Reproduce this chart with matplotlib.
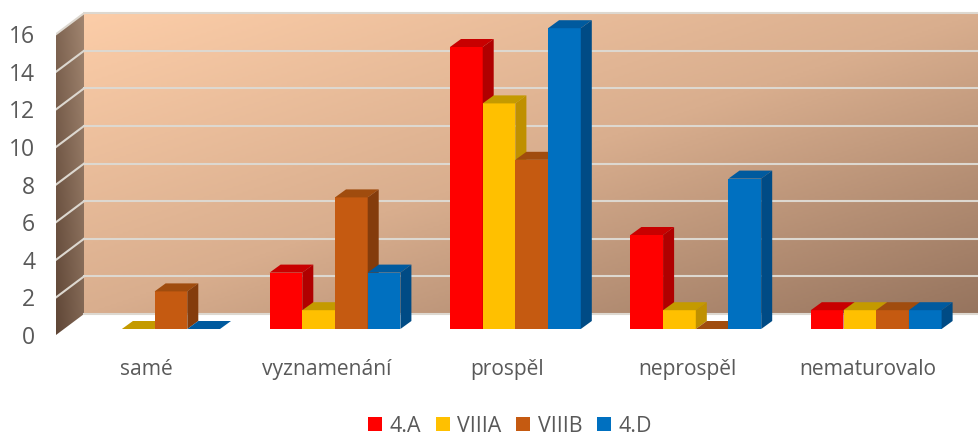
import numpy as np
import matplotlib
matplotlib.use('Agg')
import matplotlib.pyplot as plt
from matplotlib.patches import Polygon, Patch
from matplotlib.colors import LinearSegmentedColormap

plt.rcParams['font.family'] = ['Open Sans', 'DejaVu Sans']

# data
categories = ['samé', 'vyznamenání', 'prospěl', 'neprospěl', 'nematurovalo']
series_names = ['4.A', 'VIIIA', 'VIIIB', '4.D']
val_4a = [np.nan, 3, 15, 5, 1]
val_8a = [0, 1, 12, 1, 1]
val_8b = [2, 7, 9, 0, 1]
val_4d = [0, 3, 16, 8, 1]
y_ticks = [0, 2, 4, 6, 8, 10, 12, 14, 16]

# colours: front, side, top
front = ['#FF0000', '#FFC000', '#C55A11', '#0070C0']
side = ['#B00000', '#BF9000', '#843C0C', '#004B85']
top = ['#C80000', '#C49A00', '#A04C0E', '#005A9E']
grid_col = '#DDD8D0'
text_col = '#595959'

W, H = 979, 438
fig = plt.figure(figsize=(W / 100, H / 100), dpi=100)

# axes: left edge = front of the side wall, y=0 is the wall's front corner
px_left, px_right, px_y0, px_ytop = 56, 979, 335, 13
ax = fig.add_axes([px_left / W, 1 - px_y0 / H, (px_right - px_left) / W, (px_y0 - px_ytop) / H])
px_unit = 18.8          # pixels for one y unit
px_group = 180.4        # pixels between groups
ax.set_ylim(0, (px_y0 - px_ytop) / px_unit)
# category tick (label centre) positions in group units
label_px0 = 146
ax.set_xlim((px_left - label_px0) / px_group, (px_right - label_px0) / px_group)

# helper sizes in data units
ux = 1 / px_group
uy = 1 / px_unit
wall_dx, wall_dy = 28 * ux, 21 * uy
bar_w = 32.7 * ux
bar_dx, bar_dy = 11 * ux, 8 * uy
bar_base = 6 * uy       # bars stand a bit deeper than the front corner
group_shift = 8.6 * ux  # group centre vs. label centre

x0, x1 = ax.get_xlim()
wall_top = 16

# back wall gradient
nx, ny = 300, 150
gx, gy = np.meshgrid(np.linspace(0, 1, nx), np.linspace(0, 1, ny))
wall_cmap = LinearSegmentedColormap.from_list('wall', ['#FCCDA8', '#D9AE8E', '#96745E'])
back = ax.imshow((gx + gy) / 2, cmap=wall_cmap, aspect='auto', vmin=0, vmax=1, origin='upper',
                 extent=[x0 + wall_dx, x1, wall_dy, wall_top + wall_dy], zorder=1)

# side wall gradient, clipped to a parallelogram
side_cmap = LinearSegmentedColormap.from_list('side', ['#5F4636', '#A88C76'])
side_img = ax.imshow(np.clip(0.45 * gx + 0.45 * gy, 0, 1), cmap=side_cmap, aspect='auto',
                     vmin=0, vmax=1, origin='lower',
                     extent=[x0, x0 + wall_dx, 0, wall_top + wall_dy], zorder=1)
wall_poly = Polygon([(x0, 0), (x0 + wall_dx, wall_dy), (x0 + wall_dx, wall_top + wall_dy), (x0, wall_top)],
                    closed=True, transform=ax.transData, facecolor='none', edgecolor='none')
ax.add_patch(wall_poly)
side_img.set_clip_path(wall_poly)
ax.set_xlim(x0, x1)
ax.set_ylim(0, (px_y0 - px_ytop) / px_unit)

# gridlines
for v in y_ticks:
    ax.plot([x0 + wall_dx, x1], [v + wall_dy, v + wall_dy], color=grid_col, lw=1.5, zorder=2, clip_on=False)
    if v > 0:
        ax.plot([x0, x0 + wall_dx], [v, v + wall_dy], color=grid_col, lw=1.5, zorder=2)

# bars, painted left to right so the later ones cover the earlier sides
all_vals = [val_4a, val_8a, val_8b, val_4d]
z = 3
for g in range(len(categories)):
    for s in range(4):
        v = all_vals[s][g]
        if np.isnan(v):
            continue
        left = g + group_shift + (s - 2) * bar_w
        ax.bar(left, v, bar_w, bottom=bar_base, align='edge', color=front[s], lw=0, zorder=z)
        t = bar_base + v
        r = left + bar_w
        ax.add_patch(Polygon([(left, t), (r, t), (r + bar_dx, t + bar_dy), (left + bar_dx, t + bar_dy)],
                             closed=True, fc=top[s], ec='none', zorder=z))
        if v > 0:
            ax.add_patch(Polygon([(r, bar_base), (r + bar_dx, bar_base + bar_dy), (r + bar_dx, t + bar_dy), (r, t)],
                                 closed=True, fc=side[s], ec='none', zorder=z))
        z += 1

# axes text
ax.set_xticks(range(len(categories)))
ax.set_xticklabels(categories, fontsize=15.1, color=text_col)
ax.set_yticks(y_ticks)
ax.set_yticklabels([str(v) for v in y_ticks], fontsize=16.5, color=text_col)
ax.tick_params(axis='x', length=0, pad=17)
ax.tick_params(axis='y', length=0, pad=15)
for sp in ax.spines.values():
    sp.set_visible(False)
ax.patch.set_visible(False)

handles = [Patch(facecolor=c, label=n) for c, n in zip(front, series_names)]
fig.legend(handles=handles, loc='center', bbox_to_anchor=(510 / W, 1 - 426 / H), ncol=4, frameon=False,
           fontsize=15.4, labelcolor=text_col, handlelength=0.65, handleheight=0.65, handletextpad=0.35,
           columnspacing=0.7, borderpad=0)

fig.savefig('out.png', dpi=100)
